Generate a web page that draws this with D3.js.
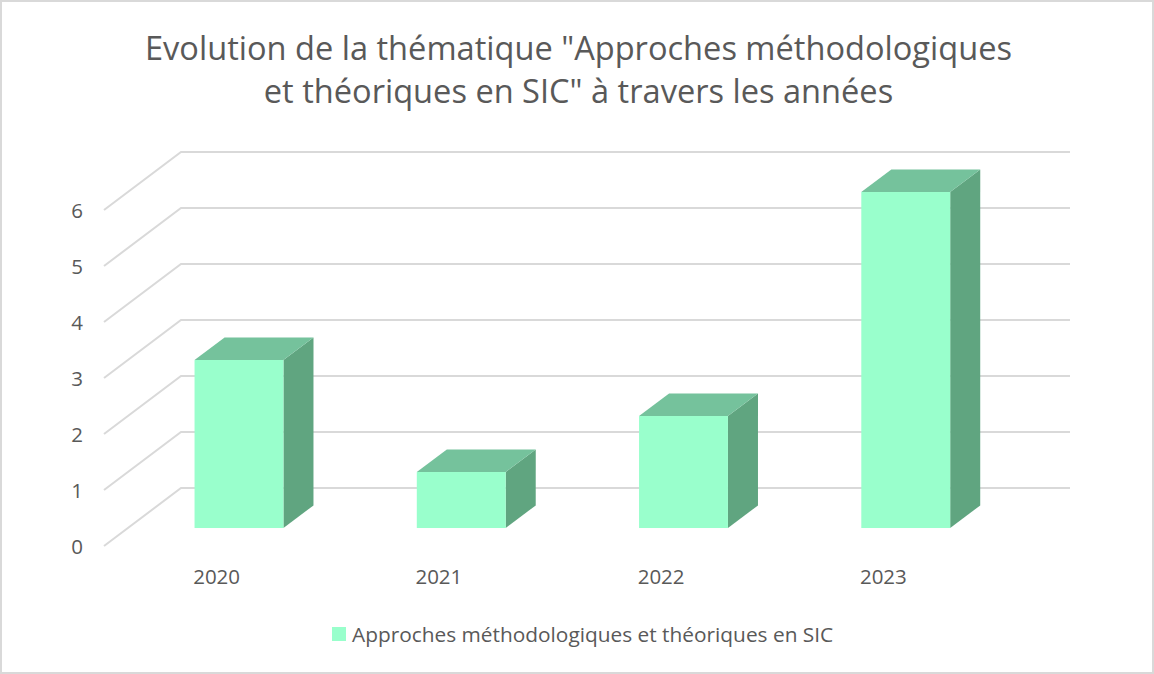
<!DOCTYPE html>
<html><head><meta charset="utf-8">
<script src="https://cdn.jsdelivr.net/npm/d3@7"></script>
<style>html,body{margin:0;padding:0;background:#fff}svg{display:block}text{font-family:"Open Sans",sans-serif;fill:#595959}</style>
</head><body><svg id="c" width="1154" height="674"></svg>
<script>
const titleLines = ['Evolution de la thématique "Approches méthodologiques', 'et théoriques en SIC" à travers les années'];
const categories = ["2020","2021","2022","2023"];
const seriesName = "Approches méthodologiques et théoriques en SIC";
const values = [3,1,2,6];
const yTicks = [0,1,2,3,4,5,6];

const svg = d3.select("#c");
svg.append("rect").attr("x",1).attr("y",1).attr("width",1152).attr("height",672)
  .attr("fill","#fff").attr("stroke","#d9d9d9").attr("stroke-width",2);

svg.selectAll("text.title").data(titleLines).join("text").attr("class","title")
  .attr("x",578.5).attr("y",(d,i)=>59.5+i*43.5).attr("text-anchor","middle")
  .attr("font-size",32.6).text(d=>d);

// front plane scales
const x = d3.scaleBand().domain(categories).range([104,993]).paddingInner(0).paddingOuter(0);
const y = d3.scaleLinear().domain([0,6]).range([546,210]);
const depth = {dx:77,dy:-58};
const barFrac = [0.31,0.70];
const barW = x.bandwidth()*0.4;
const off = f => [depth.dx*f, depth.dy*f];

const grid = svg.append("g").attr("fill","none").attr("stroke","#d9d9d9").attr("stroke-width",2);
grid.selectAll("path").data(yTicks).join("path").attr("d",t=>{
  const y0=y(t);
  return d3.line()([[x.range()[0],y0],[x.range()[0]+depth.dx,y0+depth.dy],[x.range()[1]+depth.dx,y0+depth.dy]]);
});

const bars = svg.append("g").selectAll("g").data(categories.map((c,i)=>({c,v:values[i]}))).join("g");
const [fx,fy] = off(barFrac[0]), [bx,by] = off(barFrac[1]);
const L = d=>x(d.c)+x.bandwidth()/2-barW/2+fx, R = d=>L(d)+barW;
const T = d=>y(d.v)+fy, B = ()=>y(0)+fy;
const ddx=bx-fx, ddy=by-fy;
bars.append("path").attr("fill","#60a580").attr("d",d=>d3.line()([[R(d),T(d)],[R(d)+ddx,T(d)+ddy],[R(d)+ddx,B()+ddy],[R(d),B()]])+"Z");
bars.append("path").attr("fill","#75c29c").attr("d",d=>d3.line()([[L(d),T(d)],[L(d)+ddx,T(d)+ddy],[R(d)+ddx,T(d)+ddy],[R(d),T(d)]])+"Z");
bars.append("rect").attr("fill","#99ffcc").attr("x",L).attr("y",T).attr("width",barW).attr("height",d=>B()-T(d));

svg.append("g").selectAll("text").data(yTicks).join("text")
  .attr("x",77).attr("y",t=>y(t)+7.5).attr("text-anchor","middle").attr("font-size",20.5).text(d=>d);
svg.append("g").selectAll("text").data(categories).join("text")
  .attr("x",d=>x(d)+x.bandwidth()/2+1.5).attr("y",584).attr("text-anchor","middle").attr("font-size",20.5).text(d=>d);

svg.append("rect").attr("x",332).attr("y",627).attr("width",14).attr("height",14).attr("fill","#99ffcc");
svg.append("text").attr("x",352).attr("y",642).attr("font-size",20.85).text(seriesName);
</script></body></html>
